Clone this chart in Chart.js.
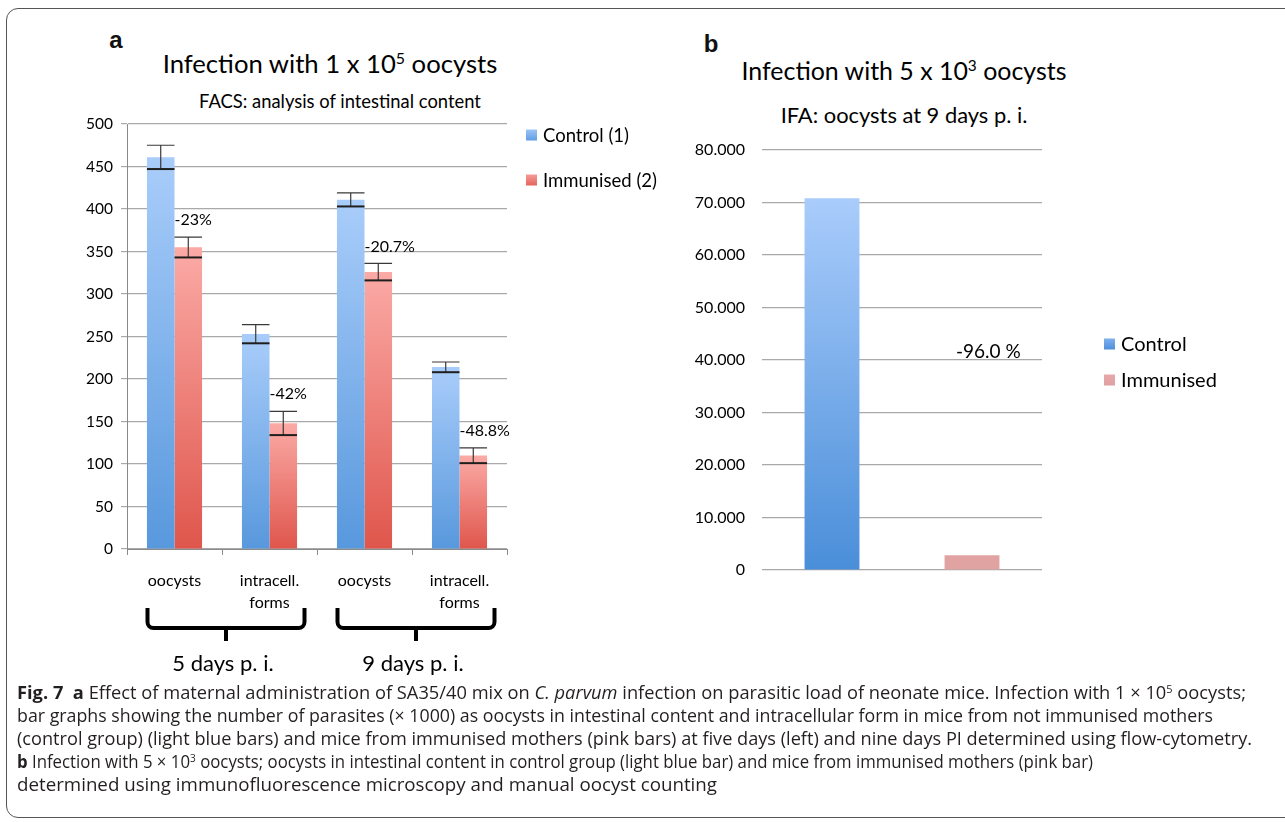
<!DOCTYPE html>
<html>
<head>
<meta charset="utf-8">
<script src="https://cdn.jsdelivr.net/npm/chart.js@4.4.1/dist/chart.umd.min.js"></script>
<style>
  html, body { margin:0; padding:0; background:#fff; width:1285px; height:822px; overflow:hidden; }
  #frame { position:absolute; left:6px; top:8px; width:1320px; height:810px; border:1px solid #555; border-radius:12px; box-sizing:border-box; }
  .t { position:absolute; white-space:nowrap; line-height:1; color:#000; transform:translate(-50%,-50%); font-family:Lato, sans-serif; }
  .panel { position:absolute; white-space:nowrap; line-height:1; font-family:"Liberation Sans", Arial, sans-serif; font-weight:bold; font-size:24px; transform:translate(-50%,-50%); color:#111; }
  sup.s { font-size:0.62em; vertical-align:0.55em; line-height:0; }
  .cap { position:absolute; left:17px; white-space:nowrap; line-height:1; font-family:"Liberation Sans Narrow", "Open Sans", sans-serif; font-size:17.5px; color:#231f20; transform-origin:0 50%; }
  .cap b { font-weight:bold; }
  .cap sup { font-size:0.6em; vertical-align:0.6em; line-height:0; }
  canvas { position:absolute; }
</style>
</head>
<body>
<div id="frame"></div>

<div class="panel" style="left:116px;top:40px;">a</div>
<div class="panel" style="left:711px;top:44px;">b</div>

<div class="t fitf" data-w="335" style="left:330px;top:64px;font-size:24px;">Infection with 1 x 10<sup class="s">5</sup> oocysts</div>
<div class="t fitf" data-w="282" style="left:340px;top:101px;font-size:18.5px;">FACS: analysis of intestinal content</div>
<div class="t fitf" data-w="325" style="left:904px;top:70px;font-size:24px;">Infection with 5 x 10<sup class="s">3</sup> oocysts</div>
<div class="t fitf" data-w="247" style="left:904px;top:115px;font-size:18.5px;">IFA: oocysts at 9 days p. i.</div>

<canvas id="chartA" width="700" height="690" style="left:0;top:0;width:700px;height:690px;"></canvas>
<canvas id="chartB" width="595" height="690" style="left:690px;top:0;width:595px;height:690px;"></canvas>

<div class="cap fitx" data-w="1229" style="top:684px;"><b>Fig. 7 &nbsp;a</b> Effect of maternal administration of SA35/40 mix on <i>C. parvum</i> infection on parasitic load of neonate mice. Infection with 1 × 10<sup>5</sup> oocysts;</div>
<div class="cap fitx" data-w="1196" style="top:707px;">bar graphs showing the number of parasites (× 1000) as oocysts in intestinal content and intracellular form in mice from not immunised mothers</div>
<div class="cap fitx" data-w="1235" style="top:730px;">(control group) (light blue bars) and mice from immunised mothers (pink bars) at five days (left) and nine days PI determined using flow-cytometry.</div>
<div class="cap fitx" data-w="1076" style="top:753px;"><b>b</b> Infection with 5 × 10<sup>3</sup> oocysts; oocysts in intestinal content in control group (light blue bar) and mice from immunised mothers (pink bar)</div>
<div class="cap fitx" data-w="700" style="top:776px;">determined using immunofluorescence microscopy and manual oocyst counting</div>

<script>
// ---------------- DATA ----------------
const facsCategories = [['oocysts'], ['intracell.', 'forms'], ['oocysts'], ['intracell.', 'forms']];
const facsGroups = ['5 days p. i.', '9 days p. i.'];
const controlValues = [461, 253, 411, 214];
const immunisedValues = [355, 148, 326, 110];
const controlErrors = [14, 11, 8, 6];
const immunisedErrors = [12, 14, 10, 9];
const reductionLabels = ['-23%', '-42%', '-20.7%', '-48.8%'];
const facsSeriesNames = ['Control (1)', 'Immunised (2)'];

const ifaCategories = ['Control', 'Immunised'];
const ifaControl = [70800, null];
const ifaImmunised = [null, 2800];
const ifaReduction = '-96.0 %';
const ifaSeriesNames = ['Control', 'Immunised'];

// ---------------- HELPERS ----------------
Chart.defaults.font.family = 'Lato, sans-serif';
Chart.defaults.color = '#000';

function fitText() {
  document.querySelectorAll('.fitf').forEach(el => {
    const w = el.getBoundingClientRect().width;
    const fs = parseFloat(el.style.fontSize);
    el.style.fontSize = (fs * (+el.dataset.w) / w) + 'px';
  });
  document.querySelectorAll('.fitx').forEach(el => {
    const w = el.getBoundingClientRect().width;
    el.style.transform = 'scaleX(' + ((+el.dataset.w) / w) + ')';
  });
}
fitText();

function perBarGradient(topColor, bottomColor) {
  return (c) => {
    const chart = c.chart;
    if (!chart.chartArea || c.type !== 'data' || c.raw == null) return bottomColor;
    const ys = chart.scales.y;
    const y0 = ys.getPixelForValue(c.raw);
    const y1 = ys.getPixelForValue(0);
    const g = chart.ctx.createLinearGradient(0, y0, 0, y1);
    g.addColorStop(0, topColor);
    g.addColorStop(1, bottomColor);
    return g;
  };
}

function drawLegend(ctx, items, x, ys, size, font) {
  ctx.save();
  ctx.font = font;
  ctx.textBaseline = 'middle';
  ctx.textAlign = 'left';
  items.forEach((it, i) => {
    const y = ys[i];
    const g = ctx.createLinearGradient(0, y - size / 2, 0, y + size / 2);
    g.addColorStop(0, it.c1); g.addColorStop(1, it.c2);
    ctx.fillStyle = g;
    ctx.fillRect(x, y - size / 2, size, size);
    ctx.fillStyle = '#000';
    ctx.fillText(it.label, x + size + 6, y + 1);
  });
  ctx.restore();
}

// ---------------- CHART A ----------------
const facsPlugin = {
  id: 'facsExtras',
  afterDatasetsDraw(chart) {
    const ctx = chart.ctx, ys = chart.scales.y, xs = chart.scales.x;
    const errs = [controlErrors, immunisedErrors];
    ctx.save();
    errs.forEach((arr, di) => {
      const meta = chart.getDatasetMeta(di);
      meta.data.forEach((bar, i) => {
        const v = chart.data.datasets[di].data[i];
        const e = arr[i];
        const half = bar.width / 2;
        const yt = ys.getPixelForValue(v + e);
        const yb = ys.getPixelForValue(v - e);
        ctx.strokeStyle = '#3a3a3a';
        ctx.lineWidth = 1.2;
        ctx.beginPath();
        ctx.moveTo(bar.x, yt); ctx.lineTo(bar.x, yb);
        ctx.moveTo(bar.x - half, yt); ctx.lineTo(bar.x + half, yt);
        ctx.stroke();
        ctx.strokeStyle = '#1e1e1e';
        ctx.lineWidth = 2;
        ctx.beginPath();
        ctx.moveTo(bar.x - half, yb); ctx.lineTo(bar.x + half, yb);
        ctx.stroke();
      });
    });
    // reduction labels
    const metaI = chart.getDatasetMeta(1);
    ctx.font = '16px Lato, sans-serif';
    ctx.fillStyle = '#000';
    ctx.textAlign = 'left';
    ctx.textBaseline = 'middle';
    metaI.data.forEach((bar, i) => {
      const v = immunisedValues[i] + immunisedErrors[i];
      ctx.fillText(reductionLabels[i], bar.x - bar.width / 2, ys.getPixelForValue(v) - 17);
    });
    ctx.restore();
  },
  afterDraw(chart) {
    const ctx = chart.ctx, xs = chart.scales.x;
    ctx.save();
    ctx.strokeStyle = '#000';
    ctx.lineWidth = 4;
    ctx.lineJoin = 'round';
    const top = 608, mid = 628, bot = 641, r = 6;
    facsGroups.forEach((label, g) => {
      const left = xs.getPixelForValue(2 * g) - 27;
      const right = xs.getPixelForValue(2 * g + 1) + 35;
      const c = (left + right) / 2;
      ctx.beginPath();
      ctx.moveTo(left, top);
      ctx.lineTo(left, mid - r);
      ctx.arcTo(left, mid, left + r, mid, r);
      ctx.lineTo(right - r, mid);
      ctx.arcTo(right, mid, right, mid - r, r);
      ctx.lineTo(right, top);
      ctx.stroke();
      ctx.beginPath();
      ctx.moveTo(c, mid); ctx.lineTo(c, bot);
      ctx.stroke();
      ctx.fillStyle = '#000';
      ctx.font = '22px Lato, sans-serif';
      ctx.textAlign = 'center';
      ctx.textBaseline = 'middle';
      ctx.fillText(label, c - 3, 664);
    });
    ctx.restore();
    const ca = chart.chartArea;
    drawLegend(chart.ctx, [
      { label: facsSeriesNames[0], c1: '#9cc3f5', c2: '#5f9ee3' },
      { label: facsSeriesNames[1], c1: '#f59b97', c2: '#e4645c' }
    ], ca.right + 19, [135, 180], 11, '18.5px Lato, sans-serif');
  }
};

new Chart(document.getElementById('chartA'), {
  type: 'bar',
  data: {
    labels: facsCategories,
    datasets: [
      { label: facsSeriesNames[0], data: controlValues, backgroundColor: perBarGradient('#a9cdfa', '#5898dd'), categoryPercentage: 0.58, barPercentage: 1.0 },
      { label: facsSeriesNames[1], data: immunisedValues, backgroundColor: perBarGradient('#fbaaa6', '#df564c'), categoryPercentage: 0.58, barPercentage: 1.0 }
    ]
  },
  options: {
    responsive: false,
    animation: false,
    events: [],
    layout: { padding: { top: 124, right: 193, left: 0, bottom: 0 } },
    plugins: { legend: { display: false }, tooltip: { enabled: false }, title: { display: false } },
    scales: {
      x: {
        grid: { display: true, drawOnChartArea: false, drawTicks: true, tickLength: 6, color: '#8a8a8a', offset: true },
        border: { color: '#8a8a8a' },
        ticks: { font: { size: 16, lineHeight: 1.35 }, color: '#000', padding: 15, autoSkip: false, maxRotation: 0 },
        afterFit(s) { s.height = 141; }
      },
      y: {
        min: 0, max: 500,
        ticks: { stepSize: 50, font: { size: 15.5 }, color: '#000', padding: 8 },
        grid: { color: '#a9a9a9', tickLength: 6, lineWidth: 1.2 },
        border: { color: '#8a8a8a' },
        afterFit(s) { s.width = 127; }
      }
    }
  },
  plugins: [facsPlugin]
});

// ---------------- CHART B ----------------
const ifaPlugin = {
  id: 'ifaExtras',
  afterDraw(chart) {
    const ctx = chart.ctx, ys = chart.scales.y;
    const bar = chart.getDatasetMeta(1).data[1];
    ctx.save();
    ctx.font = '19px Lato, sans-serif';
    ctx.fillStyle = '#000';
    ctx.textAlign = 'left';
    ctx.textBaseline = 'alphabetic';
    ctx.fillText(ifaReduction, bar.x - 16, ys.getPixelForValue(40000) - 2);
    ctx.restore();
    const ca = chart.chartArea;
    drawLegend(ctx, [
      { label: ifaSeriesNames[0], c1: '#7fb0ee', c2: '#4f8fdb' },
      { label: ifaSeriesNames[1], c1: '#e6a8a8', c2: '#dea0a0' }
    ], ca.right + 62, [344, 380], 11, '20px Lato, sans-serif');
  }
};

new Chart(document.getElementById('chartB'), {
  type: 'bar',
  data: {
    labels: ifaCategories,
    datasets: [
      { label: ifaSeriesNames[0], data: ifaControl, backgroundColor: perBarGradient('#a9ccfb', '#4a8ed9'), categoryPercentage: 0.8, barPercentage: 0.49 },
      { label: ifaSeriesNames[1], data: ifaImmunised, backgroundColor: '#e1a3a2', categoryPercentage: 0.8, barPercentage: 0.49 }
    ]
  },
  options: {
    responsive: false,
    animation: false,
    events: [],
    skipNull: true,
    layout: { padding: { top: 150, right: 243, left: 0, bottom: 0 } },
    plugins: { legend: { display: false }, tooltip: { enabled: false }, title: { display: false } },
    scales: {
      x: {
        grid: { display: false },
        border: { display: false },
        ticks: { display: false },
        afterFit(s) { s.height = 120; }
      },
      y: {
        min: 0, max: 80000,
        ticks: {
          stepSize: 10000, font: { size: 16 }, color: '#000', padding: 17,
          callback: (v) => v === 0 ? '0' : (v / 1000).toFixed(0) + '.000'
        },
        grid: { color: '#a9a9a9', drawTicks: false, lineWidth: 1.2 },
        border: { display: false },
        afterFit(s) { s.width = 72; }
      }
    }
  },
  plugins: [ifaPlugin]
});
</script>
</body>
</html>
